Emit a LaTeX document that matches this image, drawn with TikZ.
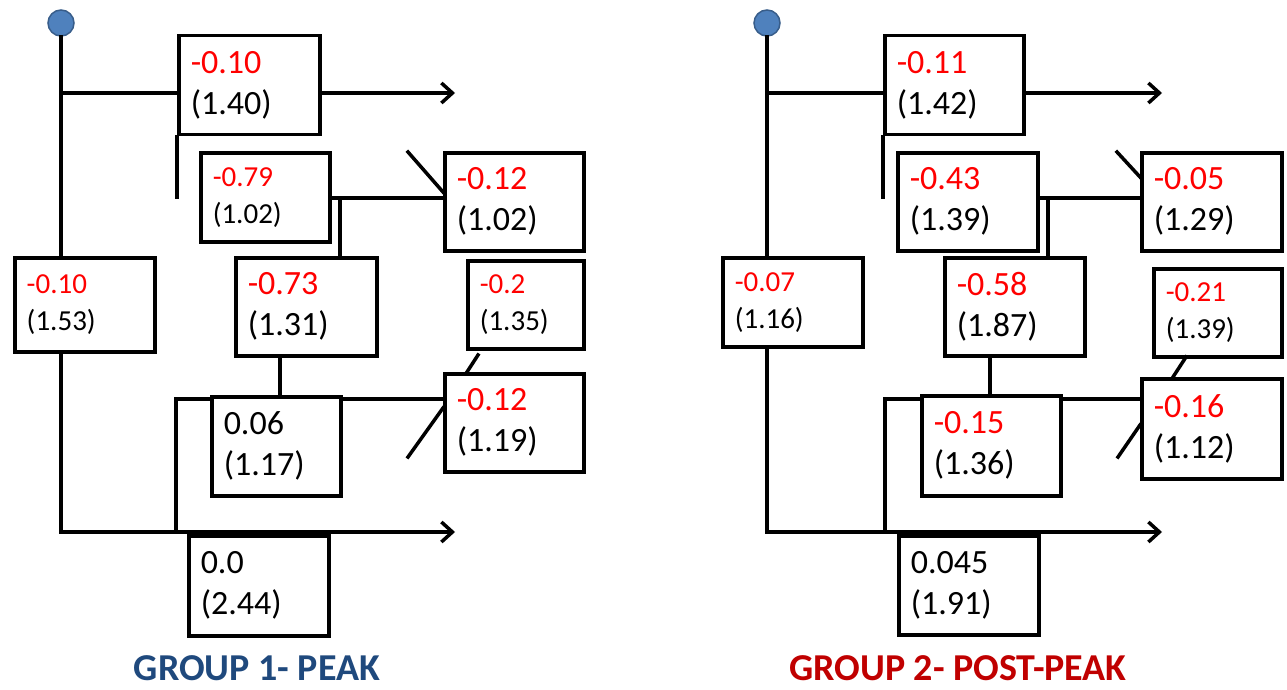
\documentclass[tikz,border=0pt]{standalone}
\usepackage{fontspec}
\setmainfont{Carlito}
\usetikzlibrary{arrows.meta}
\definecolor{dotfill}{RGB}{79,129,189}
\definecolor{dotline}{RGB}{56,93,138}
\definecolor{gblue}{RGB}{31,73,125}
\definecolor{gred}{RGB}{192,0,0}
\tikzset{
  ln/.style={line width=3.5pt, line cap=rect},
  arr/.style={ln, line cap=butt, -{Straight Barb[length=11pt,width=20pt,line width=3.5pt]}},
  bx/.style n args={2}{draw, line width=3.5pt, fill=white, inner xsep=12pt, inner ysep=0pt,
     text width=#1, minimum height=#2, align=left, anchor=north west},
  big/.style={font=\fontsize{34}{41}\selectfont},
  sml/.style={font=\fontsize{29}{37}\selectfont},
  dotst/.style={circle, draw=dotline, line width=1.5pt, fill=dotfill, minimum size=26pt, inner sep=0pt},
  ttl/.style={font=\fontsize{38}{44}\selectfont\bfseries, inner sep=0pt, anchor=base}
}
\newcommand{\rd}[1]{\textcolor{red}{#1}}
\begin{document}
\begin{tikzpicture}[x=1pt,y=-1pt]
\useasboundingbox (0,0) rectangle (1287,690);

% ================= GROUP 1 =================
\node[bx={117pt}{99pt},big] (A1) at (177,34) {\rd{-0.10}\\(1.40)};
\node[bx={105pt}{89pt},sml]  (B1) at (199,151) {\rd{-0.79}\\(1.02)};
\node[bx={115pt}{98pt},big] (C1) at (443,151) {\rd{-0.12}\\(1.02)};
\node[bx={116pt}{94pt},sml] (L1) at (13,256) {\rd{-0.10}\\(1.53)};
\node[bx={117pt}{98pt},big] (D1) at (234,256) {\rd{-0.73}\\(1.31)};
\node[bx={92pt}{88pt},sml]  (E1) at (466,259) {\rd{-0.2}\\(1.35)};
\node[bx={105pt}{99pt},big]  (F1) at (210,395) {0.06\\(1.17)};
\node[bx={115pt}{98pt},big] (G1) at (443,372) {\rd{-0.12}\\(1.19)};
\node[bx={116pt}{100pt},big] (H1) at (187,534) {0.0\\(2.44)};

\coordinate (t1) at (61,93);
\coordinate (t1e) at (455,93);
\coordinate (b1) at (61,532);
\coordinate (b1e) at (455,532);
\coordinate (v1) at (177,197);
\coordinate (m1) at (340,198);
\coordinate (df1) at (280,0);
\coordinate (f1) at (176,399);
\coordinate (f1b) at (176,532);
\coordinate (c1a) at (408,152);
\coordinate (c1b) at (443,192);
\coordinate (g1a) at (408,457);
\coordinate (g1b) at (443,408);
\coordinate (e1a) at (478,355);
\coordinate (e1b) at (467,372);

\draw[ln] (t1) -- (t1 -| A1.west);
\draw[arr] (t1 -| A1.east) -- (t1e);
\draw[ln] (A1.south west) -- (v1);
\draw[ln] (m1 -| B1.east) -- (m1 -| C1.west);
\draw[ln] (m1) -- (m1 |- D1.north);
\draw[ln] (c1a) -- (c1b);
\draw[ln] (df1 |- D1.south) -- (df1 |- F1.north);
\draw[ln] (f1b) -- (f1) -- (f1 -| F1.west);
\draw[ln] (f1 -| F1.east) -- (f1 -| G1.west);
\draw[ln] (g1a) -- (g1b);
\draw[ln] (e1a) -- (e1b);
\draw[ln] (b1 |- L1.south) -- (b1);
\draw[arr] (b1) -- (b1e);
\node[dotst] (dot1) at (61,23) {};
\draw[ln] (dot1.south) -- (dot1 |- L1.north);

\node[ttl, text=gblue] (T1) at (257,680) {GROUP 1- PEAK};

% ================= GROUP 2 =================
\node[bx={115pt}{99pt},big] (A2) at (883,34) {\rd{-0.11}\\(1.42)};
\node[bx={116pt}{98pt},big] (B2) at (896,151) {\rd{-0.43}\\(1.39)};
\node[bx={116pt}{98pt},big] (C2) at (1140,151) {\rd{-0.05}\\(1.29)};
\node[bx={116pt}{89pt},sml] (L2) at (721,256) {\rd{-0.07}\\(1.16)};
\node[bx={116pt}{98pt},big] (D2) at (943,256) {\rd{-0.58}\\(1.87)};
\node[bx={104pt}{88pt},sml]  (E2) at (1152,267) {\rd{-0.21}\\(1.39)};
\node[bx={115pt}{100pt},big] (F2) at (920,394) {\rd{-0.15}\\(1.36)};
\node[bx={116pt}{100pt},big] (G2) at (1140,377) {\rd{-0.16}\\(1.12)};
\node[bx={116pt}{99pt},big] (H2) at (897,534) {0.045\\(1.91)};

\coordinate (t2) at (767,93);
\coordinate (t2e) at (1162,93);
\coordinate (b2) at (767,532);
\coordinate (b2e) at (1162,532);
\coordinate (v2) at (883,197);
\coordinate (m2) at (1048,198);
\coordinate (df2) at (990,0);
\coordinate (f2) at (885,399);
\coordinate (f2b) at (885,532);
\coordinate (c2a) at (1117,152);
\coordinate (c2b) at (1140,177);
\coordinate (g2a) at (1118,457);
\coordinate (g2b) at (1140,425);
\coordinate (e2a) at (1186,357);
\coordinate (e2b) at (1173,377);

\draw[ln] (t2) -- (t2 -| A2.west);
\draw[arr] (t2 -| A2.east) -- (t2e);
\draw[ln] (A2.south west) -- (v2);
\draw[ln] (m2 -| B2.east) -- (m2 -| C2.west);
\draw[ln] (m2) -- (m2 |- D2.north);
\draw[ln] (c2a) -- (c2b);
\draw[ln] (df2 |- D2.south) -- (df2 |- F2.north);
\draw[ln] (f2b) -- (f2) -- (f2 -| F2.west);
\draw[ln] (f2 -| F2.east) -- (f2 -| G2.west);
\draw[ln] (g2a) -- (g2b);
\draw[ln] (e2a) -- (e2b);
\draw[ln] (b2 |- L2.south) -- (b2);
\draw[arr] (b2) -- (b2e);
\node[dotst] (dot2) at (767,23) {};
\draw[ln] (dot2.south) -- (dot2 |- L2.north);

\node[ttl, text=gred] (T2) at (958,680) {GROUP 2- POST-PEAK};
\end{tikzpicture}
\end{document}
